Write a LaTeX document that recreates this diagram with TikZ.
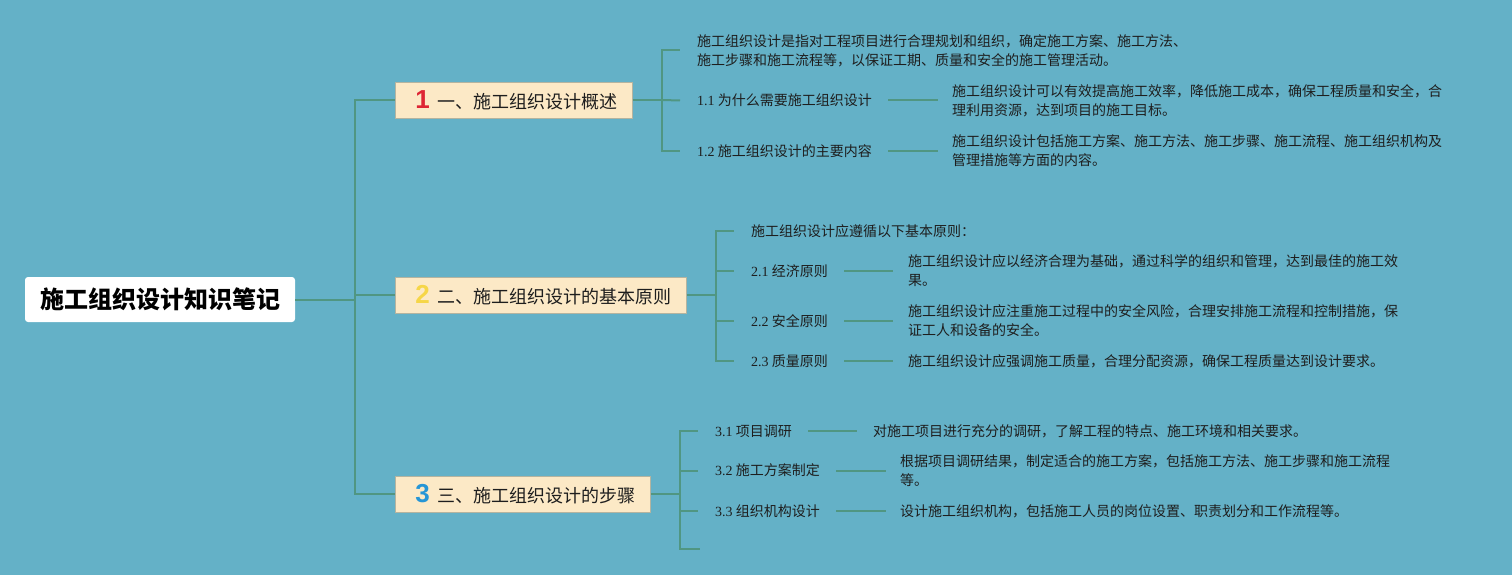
\documentclass[tikz,border=0pt]{standalone}
\usepackage{fontspec}
\newfontfamily\cjk{Noto Sans CJK SC}
\newfontfamily\numf{Liberation Serif}
\newfontfamily\bignum{Liberation Sans}
\definecolor{bg}{RGB}{100,177,199}
\definecolor{boxfill}{RGB}{252,233,198}
\definecolor{boxline}{RGB}{180,180,160}
\definecolor{linec}{RGB}{80,150,130}
\definecolor{textc}{RGB}{30,30,30}
\definecolor{nred}{RGB}{222,38,52}
\definecolor{nyellow}{RGB}{246,214,72}
\definecolor{nblue}{RGB}{38,150,214}
\newcommand{\nm}[1]{{\numf #1}}
\newcommand{\bn}[2]{\hspace{5pt}{\bignum\bfseries\fontsize{26}{26}\selectfont\textcolor{#1}{#2}}\hspace{7.5pt}}
\begin{document}
\begin{tikzpicture}[x=1pt,y=-1pt,
  root/.style={fill=white, rounded corners=3pt, minimum width=270pt, minimum height=45pt, inner sep=0pt, text=black, font=\cjk\bfseries\fontsize{24}{28}\selectfont},
  topic/.style={fill=boxfill, draw=boxline, line width=0.8pt, minimum height=36pt, inner xsep=15pt, inner ysep=0pt, anchor=west, text=textc, font=\cjk\fontsize{18}{22}\selectfont},
  lbl/.style={anchor=west, inner sep=0pt, text=textc, font=\cjk\fontsize{14}{19}\selectfont},
  desc/.style={lbl, align=left},
  conn/.style={draw=linec, line width=2pt}]
\fill[bg] (0,0) rectangle (1512,575);
\useasboundingbox (0,0) rectangle (1512,575);

% root
\node[root] (root) at (160,299.5) {施工组织设计知识笔记};

% topics
\node[topic] (b1) at (395,100) {\bn{nred}{1}一、施工组织设计概述};
\node[topic] (b2) at (395,295) {\bn{nyellow}{2}二、施工组织设计的基本原则};
\node[topic] (b3) at (395,494) {\bn{nblue}{3}三、施工组织设计的步骤};

\coordinate (sp) at (355,299.5);
\draw[conn] (root.east) -- (sp);
\draw[conn] (sp) |- (b1.west);
\draw[conn] (sp) |- (b2.west);
\draw[conn] (sp) |- (b3.west);

% group 1
\node[desc] (g10) at (697,50.5) {施工组织设计是指对工程项目进行合理规划和组织，确定施工方案、施工方法、\\施工步骤和施工流程等，以保证工期、质量和安全的施工管理活动。};
\node[lbl] (g11) at (697,100.5) {\nm{1.1} 为什么需要施工组织设计};
\node[lbl] (g12) at (697,151) {\nm{1.2} 施工组织设计的主要内容};
\node[desc] (d11) at (952,100.5) {施工组织设计可以有效提高施工效率，降低施工成本，确保工程质量和安全，合\\理利用资源，达到项目的施工目标。};
\node[desc] (d12) at (952,151) {施工组织设计包括施工方案、施工方法、施工步骤、施工流程、施工组织机构及\\管理措施等方面的内容。};
\coordinate (s1) at (662,100);
\draw[conn] (b1.east) -- (s1);
\draw[conn] (s1) |- ([xshift=-17pt]g10.west);
\draw[conn] (s1) -- ([xshift=-17pt]g11.west);
\draw[conn] (s1) |- ([xshift=-17pt]g12.west);
\draw[conn] ([xshift=16pt]g11.east) -- ([xshift=-14pt]d11.west);
\draw[conn] ([xshift=16pt]g12.east) -- ([xshift=-14pt]d12.west);

% group 2
\node[lbl] (g20) at (751,231) {施工组织设计应遵循以下基本原则：};
\node[lbl] (g21) at (751,271) {\nm{2.1} 经济原则};
\node[lbl] (g22) at (751,321) {\nm{2.2} 安全原则};
\node[lbl] (g23) at (751,361) {\nm{2.3} 质量原则};
\node[desc] (d21) at (908,271) {施工组织设计应以经济合理为基础，通过科学的组织和管理，达到最佳的施工效\\果。};
\node[desc] (d22) at (908,321) {施工组织设计应注重施工过程中的安全风险，合理安排施工流程和控制措施，保\\证工人和设备的安全。};
\node[desc] (d23) at (908,361) {施工组织设计应强调施工质量，合理分配资源，确保工程质量达到设计要求。};
\coordinate (s2) at (716,295);
\draw[conn] (b2.east) -- (s2);
\draw[conn] (s2) |- ([xshift=-17pt]g20.west);
\draw[conn] (s2) |- ([xshift=-17pt]g21.west);
\draw[conn] (s2) |- ([xshift=-17pt]g22.west);
\draw[conn] (s2) |- ([xshift=-17pt]g23.west);
\draw[conn] ([xshift=16pt]g21.east) -- ([xshift=-15pt]d21.west);
\draw[conn] ([xshift=16pt]g22.east) -- ([xshift=-15pt]d22.west);
\draw[conn] ([xshift=16pt]g23.east) -- ([xshift=-15pt]d23.west);

% group 3
\node[lbl] (g31) at (715,431) {\nm{3.1} 项目调研};
\node[lbl] (g32) at (715,470.5) {\nm{3.2} 施工方案制定};
\node[lbl] (g33) at (715,511) {\nm{3.3} 组织机构设计};
\node[desc] (d31) at (873,431) {对施工项目进行充分的调研，了解工程的特点、施工环境和相关要求。};
\node[desc] (d32) at (900,470.5) {根据项目调研结果，制定适合的施工方案，包括施工方法、施工步骤和施工流程\\等。};
\node[desc] (d33) at (900,511) {设计施工组织机构，包括施工人员的岗位设置、职责划分和工作流程等。};
\coordinate (s3) at (680,494);
\coordinate (e3) at (700,549);
\draw[conn] (b3.east) -- (s3);
\draw[conn] (s3) |- ([xshift=-17pt]g31.west);
\draw[conn] (s3) |- ([xshift=-17pt]g32.west);
\draw[conn] (s3) |- ([xshift=-17pt]g33.west);
\draw[conn] (s3) |- (e3);
\draw[conn] ([xshift=16pt]g31.east) -- ([xshift=-16pt]d31.west);
\draw[conn] ([xshift=16pt]g32.east) -- ([xshift=-14pt]d32.west);
\draw[conn] ([xshift=16pt]g33.east) -- ([xshift=-14pt]d33.west);
\end{tikzpicture}
\end{document}
